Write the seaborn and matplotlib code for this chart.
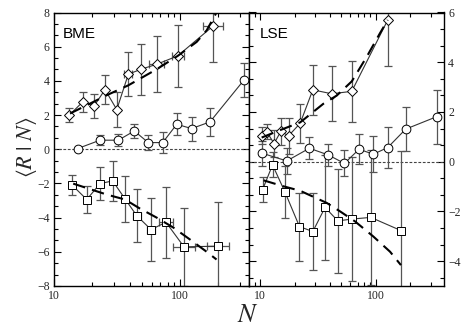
import matplotlib
matplotlib.use("Agg")
import matplotlib.pyplot as plt
import seaborn as sns
import numpy as np
from matplotlib.ticker import FixedLocator, AutoMinorLocator, LogLocator, NullFormatter, FixedFormatter

# ---------------- data ----------------
# BME panel
bme_dia_N = [13.2, 16.9, 20.8, 25.4, 31.5, 38.9, 49.0, 65.3, 95.9, 181.8]
bme_dia_v = [1.99, 2.77, 2.53, 3.49, 2.32, 4.39, 4.68, 4.97, 5.46, 7.19]
bme_dia_e = [0.4, 0.6, 0.73, 0.86, 1.04, 1.3, 1.48, 1.63, 1.8, 2.1]
bme_dia_xlo = [0, 0, 0, 0, 0, 2.8, 0, 8.6, 10.1, 30]
bme_dia_xhi = [0, 0, 0, 0, 0, 3.0, 0, 9.8, 11.3, 36]

bme_cir_N = [15.4, 23.2, 32.4, 43.4, 56.0, 72.9, 94.2, 123.8, 173.0, 322]
bme_cir_v = [0.04, 0.53, 0.53, 1.07, 0.39, 0.39, 1.46, 1.21, 1.6, 4.05]
bme_cir_e = [0.0, 0.3, 0.35, 0.4, 0.44, 0.6, 0.64, 0.7, 0.82, 0.97]

bme_sq_N = [13.8, 18.2, 23.2, 29.2, 36.6, 45.3, 58.9, 77.4, 107.6, 201]
bme_sq_v = [-2.07, -2.94, -2.01, -1.85, -2.9, -3.88, -4.7, -4.27, -5.71, -5.67]
bme_sq_e = [0.58, 0.78, 0.98, 1.15, 1.33, 1.56, 1.86, 2.07, 2.3, 2.6]
bme_sq_xlo = [0, 0, 0, 0, 0, 3.3, 4.2, 8.9, 19.9, 37]
bme_sq_xhi = [0, 0, 0, 0, 0, 3.5, 4.5, 10.0, 24.2, 45]

bme_fit_up_N = [13.4, 19.3, 26.2, 38.9, 65.3, 95.9, 135.7, 163, 189.7, 195]
bme_fit_up_v = [2.09, 2.67, 3.16, 3.74, 4.68, 5.46, 6.28, 6.96, 7.84, 8.0]
bme_fit_dn_N = [14.2, 26.2, 36.6, 48.1, 65.3, 88.5, 120, 163, 195]
bme_fit_dn_v = [-2.01, -2.65, -2.94, -3.47, -4.0, -4.58, -5.28, -6.0, -6.45]

# LSE panel
lse_dia_N = [10.3, 11.4, 13.2, 15.1, 17.6, 22.2, 28.6, 41.8, 62.2, 127.6]
lse_dia_v = [1.04, 1.2, 0.73, 1.22, 1.04, 1.54, 2.89, 2.73, 2.83, 5.70]
lse_dia_e = [0.34, 0.3, 0.55, 0.55, 0.72, 0.78, 1.01, 1.1, 1.23, 1.86]

lse_cir_N = [10.4, 17.0, 26.7, 39.0, 53.7, 72.0, 95.7, 127.6, 182.5, 339]
lse_cir_v = [0.34, 0.03, 0.54, 0.27, -0.07, 0.5, 0.3, 0.57, 1.31, 1.81]
lse_cir_e = [0.5, 0.54, 0.45, 0.45, 0.52, 0.6, 0.73, 0.84, 0.87, 1.08]

lse_sq_N = [10.5, 12.8, 16.4, 21.9, 28.6, 36.5, 47.1, 62.2, 90.9, 166]
lse_sq_v = [-1.12, -0.13, -1.22, -2.61, -2.81, -1.84, -2.38, -2.31, -2.24, -2.77]
lse_sq_e = [0.49, 0.5, 1.03, 1.37, 1.54, 2.1, 2.1, 2.5, 2.7, 3.2]

lse_fit_up_N = [10.3, 14.9, 22.2, 35.3, 46.1, 62.2, 83.9, 109, 127.6]
lse_fit_up_v = [0.97, 1.27, 1.58, 2.33, 2.66, 3.23, 4.22, 5.16, 5.70]
lse_fit_dn_N = [10.7, 15.9, 22.2, 37.8, 49.3, 66.3, 95.7, 133.5, 166]
lse_fit_dn_v = [-0.75, -0.99, -1.17, -1.66, -2.0, -2.40, -3.01, -3.62, -4.16]

panel_titles = ["BME", "LSE"]
left_yticks = [-8, -6, -4, -2, 0, 2, 4, 6, 8]
right_yticks = [-4, -2, 0, 2, 4, 6]
xtick_vals = [10, 100]
xtick_labels = ["10", "100"]

# ---------------- style ----------------
sns.set_theme(style="ticks")
plt.rcParams["font.family"] = ["Liberation Serif", "DejaVu Serif"]
plt.rcParams["mathtext.fontset"] = "stix"

fig = plt.figure(figsize=(4.64, 3.33), dpi=100)
ax1 = fig.add_axes([54 / 464, 47 / 333, 195 / 464, 273.5 / 333])
ax2 = fig.add_axes([249 / 464, 47 / 333, 195 / 464, 273.5 / 333])

LINE = "#333333"
ERR = "#555555"


def series(ax, N, v, e, marker, ms, xlo=None, xhi=None):
    xerr = None
    if xlo is not None:
        xerr = [xlo, xhi]
    ax.errorbar(N, v, yerr=e, xerr=xerr, fmt="none", ecolor=ERR, elinewidth=0.9,
                capsize=3, capthick=0.9, zorder=2)
    sns.lineplot(x=N, y=v, ax=ax, color=LINE, linewidth=0.8, marker=marker,
                 markersize=ms, markerfacecolor="white", markeredgecolor="black",
                 markeredgewidth=0.7, zorder=3, sort=False, estimator=None)


def fit(ax, N, v):
    sns.lineplot(x=N, y=v, ax=ax, color="black", linewidth=1.5, zorder=4,
                 sort=False, estimator=None, dashes=False)
    ax.lines[-1].set_dashes([6, 3.5])


# BME panel
series(ax1, bme_dia_N, bme_dia_v, bme_dia_e, "D", 5.2, bme_dia_xlo, bme_dia_xhi)
series(ax1, bme_cir_N, bme_cir_v, bme_cir_e, "o", 6.3)
series(ax1, bme_sq_N, bme_sq_v, bme_sq_e, "s", 5.6, bme_sq_xlo, bme_sq_xhi)
fit(ax1, bme_fit_up_N, bme_fit_up_v)
fit(ax1, bme_fit_dn_N, bme_fit_dn_v)

# LSE panel
series(ax2, lse_dia_N, lse_dia_v, lse_dia_e, "D", 5.2)
series(ax2, lse_cir_N, lse_cir_v, lse_cir_e, "o", 6.3)
series(ax2, lse_sq_N, lse_sq_v, lse_sq_e, "s", 5.6)
fit(ax2, lse_fit_up_N, lse_fit_up_v)
fit(ax2, lse_fit_dn_N, lse_fit_dn_v)

for ax, xl, yl, yt, title, tx in [
    (ax1, (10, 353), (-8, 8), left_yticks, panel_titles[0], 0.045),
    (ax2, (8, 392), (-5, 6), right_yticks, panel_titles[1], 0.055),
]:
    ax.set_xscale("log")
    ax.set_xlim(*xl)
    ax.set_ylim(*yl)
    ax.axhline(0, color="#444444", linewidth=0.8, linestyle=(0, (2.5, 1.5)), zorder=1)
    ax.xaxis.set_major_locator(FixedLocator(xtick_vals))
    ax.xaxis.set_major_formatter(FixedFormatter(xtick_labels))
    ax.xaxis.set_minor_locator(LogLocator(base=10, subs=np.arange(2, 10)))
    ax.xaxis.set_minor_formatter(NullFormatter())
    ax.yaxis.set_major_locator(FixedLocator(yt))
    ax.yaxis.set_minor_locator(AutoMinorLocator(3))
    ax.tick_params(which="both", direction="in", top=True, bottom=True, left=True,
                   right=True, color="black", width=0.8, labelsize=8.5, pad=3)
    ax.tick_params(which="major", length=5)
    ax.tick_params(which="minor", length=2.8)
    for s in ax.spines.values():
        s.set_color("black")
        s.set_linewidth(1.0)
    ax.set_xlabel("")
    ax.set_ylabel("")
    ax.text(tx, 0.92, title, transform=ax.transAxes, fontsize=11,
            family=["Liberation Sans", "DejaVu Sans"], color="black", va="center")

ax1.tick_params(axis="y", labelleft=True, labelright=False)
ax2.tick_params(axis="y", labelleft=False, labelright=True)

fig.text(27 / 464, 1 - 147 / 333, r"$\langle R\ |\ N\rangle$", rotation=90,
         ha="center", va="center", fontsize=16)
fig.text(248 / 464, 1 - 316 / 333, r"$N$", ha="center", va="center", fontsize=19)

fig.savefig("out.png", dpi=100)
